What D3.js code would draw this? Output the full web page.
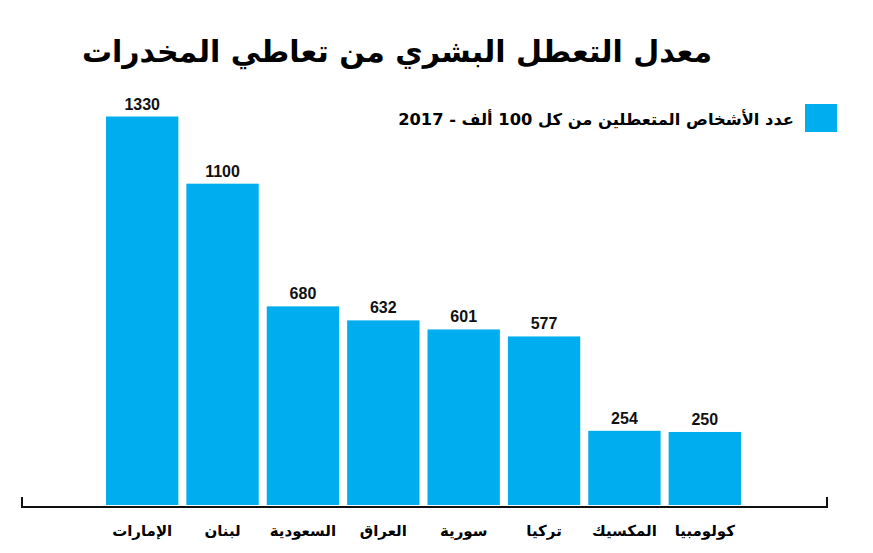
<!DOCTYPE html>
<html>
<head>
<meta charset="utf-8">
<script src="https://cdn.jsdelivr.net/npm/d3@7"></script>
<style>
  body { margin: 0; background: #fff; }
  svg { display: block; }
</style>
</head>
<body>
<svg width="873" height="553"></svg>
<script>
// data
const countries = ['الإمارات', 'لبنان', 'السعودية', 'العراق', 'سورية', 'تركيا', 'المكسيك', 'كولومبيا'];
const values = [1330, 1100, 680, 632, 601, 577, 254, 250];
const title = 'معدل التعطل البشري من تعاطي المخدرات';
const legendLabel = 'عدد الأشخاص المتعطلين من كل 100 ألف - 2017';

const blue = '#00adef';
const svg = d3.select('svg');

const data = countries.map((c, i) => ({ name: c, value: values[i] }));

const baseY = 505;

const x = d3.scaleBand()
  .domain(countries)
  .range([102, 745])
  .paddingInner(0.1)
  .paddingOuter(0.05);

const y = d3.scaleLinear()
  .domain([0, 1330])
  .range([baseY, 116.5]);

// title
svg.append('text')
  .attr('x', 397)
  .attr('y', 62)
  .attr('text-anchor', 'middle')
  .attr('direction', 'rtl')
  .attr('font-family', 'DejaVu Sans')
  .attr('font-weight', 'bold')
  .attr('font-size', 30)
  .attr('fill', '#000')
  .text(title);

// legend
svg.append('rect')
  .attr('x', 805)
  .attr('y', 104)
  .attr('width', 32)
  .attr('height', 28)
  .attr('fill', blue);

svg.append('text')
  .attr('x', 794)
  .attr('y', 125)
  .attr('text-anchor', 'start')
  .attr('direction', 'rtl')
  .attr('font-family', 'DejaVu Sans')
  .attr('font-weight', 'bold')
  .attr('font-size', 16.3)
  .attr('fill', '#000')
  .text(legendLabel);

// bars
svg.selectAll('rect.bar')
  .data(data)
  .enter()
  .append('rect')
    .attr('class', 'bar')
    .attr('x', d => x(d.name))
    .attr('y', d => y(d.value))
    .attr('width', x.bandwidth())
    .attr('height', d => baseY - y(d.value))
    .attr('fill', blue);

// value labels
svg.selectAll('text.val')
  .data(data)
  .enter()
  .append('text')
    .attr('class', 'val')
    .attr('x', d => x(d.name) + x.bandwidth() / 2)
    .attr('y', d => y(d.value) - 7)
    .attr('text-anchor', 'middle')
    .attr('font-family', 'Liberation Sans')
    .attr('font-weight', 'bold')
    .attr('font-size', 16)
    .attr('fill', '#111')
    .text(d => d.value);

// baseline with end ticks
svg.append('path')
  .attr('d', `M22,${baseY - 8}V${baseY + 2}H827V${baseY - 8}`)
  .attr('fill', 'none')
  .attr('stroke', '#111')
  .attr('stroke-width', 2);

// category labels
svg.selectAll('text.cat')
  .data(data)
  .enter()
  .append('text')
    .attr('class', 'cat')
    .attr('x', d => x(d.name) + x.bandwidth() / 2)
    .attr('y', 536)
    .attr('text-anchor', 'middle')
    .attr('direction', 'rtl')
    .attr('font-family', 'DejaVu Sans')
    .attr('font-weight', 'bold')
    .attr('font-size', 15)
    .attr('fill', '#000')
    .text(d => d.name);
</script>
</body>
</html>
